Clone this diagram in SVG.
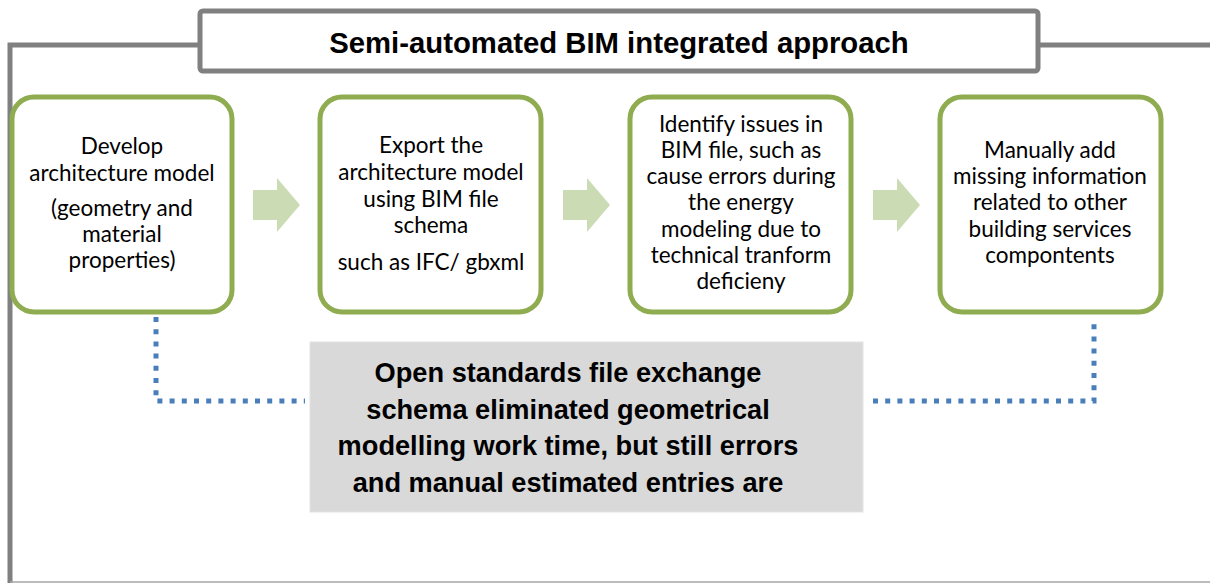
<svg xmlns="http://www.w3.org/2000/svg" width="1210" height="583" viewBox="0 0 1210 583">
<style>
.frame{fill:none;stroke:#808080;stroke-width:5}
.box{fill:#ffffff;stroke:#8fad50;stroke-width:5}
.arrow{fill:#cbdcb5}
.dot{fill:none;stroke:#4a7ebb;stroke-width:5;stroke-dasharray:5 7.2}
.t{font-family:Lato,"Liberation Sans",sans-serif;font-size:22.5px;fill:#000;text-anchor:middle}
.title{font-family:"Liberation Sans",Arial,sans-serif;font-size:29.3px;font-weight:bold;fill:#000;text-anchor:middle}
.note{font-family:"Liberation Sans",Arial,sans-serif;font-size:27.2px;font-weight:bold;fill:#000;text-anchor:middle}
</style>
<rect width="1210" height="583" fill="#ffffff"/>
<g id="frame">
<polyline class="frame" points="10,583 10,45 198,45"/>
<line class="frame" x1="1040" y1="45" x2="1210" y2="45"/>
<line x1="10" y1="582" x2="1210" y2="582" stroke="#a6a6a6" stroke-width="1.5"/>
</g>
<g id="title">
<rect class="frame" x="200" y="11" width="838" height="60" rx="3"/>
<text class="title" x="619" y="53">Semi-automated BIM integrated approach</text>
</g>
<g id="connectors">
<path class="arrow" d="M253,190 H277 V178 L300,205 L277,232 V220 H253 Z"/>
<path class="arrow" d="M563,190 H587 V178 L610,205 L587,232 V220 H563 Z"/>
<path class="arrow" d="M873,190 H897 V178 L920,205 L897,232 V220 H873 Z"/>
<polyline class="dot" points="156,317 156,401 305,401"/>
<polyline class="dot" points="873,401 1094,401 1094,317"/>
</g>
<g id="node1">
<rect class="box" x="12" y="97" width="220" height="215" rx="22"/>
<text class="t" x="122" y="154">Develop</text>
<text class="t" x="122" y="181">architecture model</text>
<text class="t" x="122" y="216">(geometry and</text>
<text class="t" x="122" y="242">material</text>
<text class="t" x="122" y="268">properties)</text>
</g>
<g id="node2">
<rect class="box" x="320" y="97" width="221" height="215" rx="22"/>
<text class="t" x="431" y="153">Export the</text>
<text class="t" x="431" y="180">architecture model</text>
<text class="t" x="431" y="207">using BIM file</text>
<text class="t" x="431" y="233">schema</text>
<text class="t" x="431" y="270">such as IFC/ gbxml</text>
</g>
<g id="node3">
<rect class="box" x="630" y="97" width="221" height="215" rx="22"/>
<text class="t" x="741" y="132">Identify issues in</text>
<text class="t" x="741" y="158">BIM file, such as</text>
<text class="t" x="741" y="184">cause errors during</text>
<text class="t" x="741" y="210">the energy</text>
<text class="t" x="741" y="237">modeling due to</text>
<text class="t" x="741" y="263">technical tranform</text>
<text class="t" x="741" y="289">deficieny</text>
</g>
<g id="node4">
<rect class="box" x="940" y="97" width="221" height="215" rx="22"/>
<text class="t" x="1050" y="158">Manually add</text>
<text class="t" x="1050" y="184">missing information</text>
<text class="t" x="1050" y="210">related to other</text>
<text class="t" x="1050" y="237">building services</text>
<text class="t" x="1050" y="263">compontents</text>
</g>
<g id="note">
<rect x="310" y="342" width="553" height="170" fill="#d9d9d9" stroke="#e3e3e3" stroke-width="1"/>
<text class="note" x="568" y="382">Open standards file exchange</text>
<text class="note" x="568" y="419">schema eliminated geometrical</text>
<text class="note" x="568" y="455">modelling work time, but still errors</text>
<text class="note" x="568" y="492">and manual estimated entries are</text>
</g>
</svg>
